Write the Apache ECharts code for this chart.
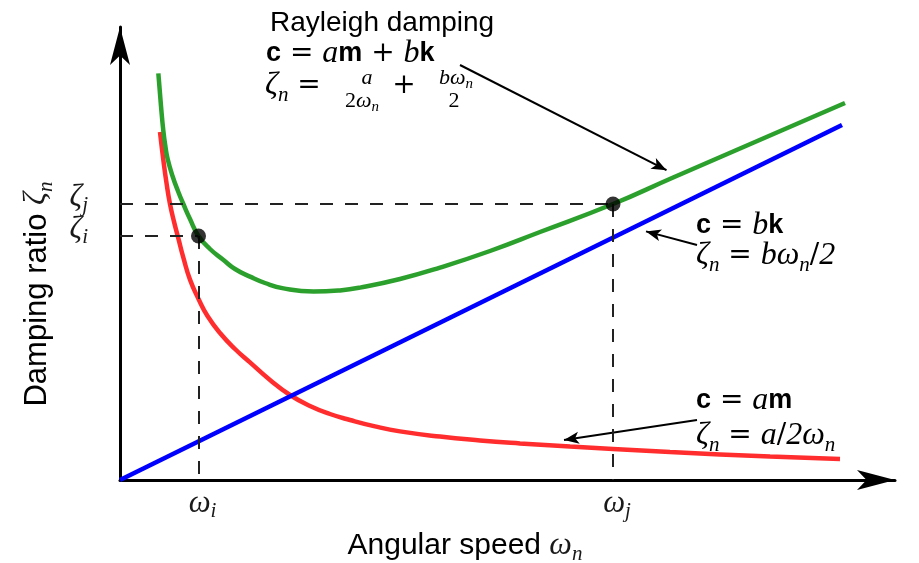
<!DOCTYPE html>
<html>
<head>
<meta charset="utf-8">
<script src="https://cdn.jsdelivr.net/npm/echarts@6/dist/echarts.min.js"></script>
<style>
html,body{margin:0;padding:0;background:#fff;}
#chart{width:919px;height:563px;}
</style>
</head>
<body>
<div id="chart"></div>
<script>
// ---- data (x: angular speed, y: damping ratio, arbitrary units) ----
const massCurve = [[0.8,17.4],[0.867,16.0],[0.93,14.85],[1.0,13.8],[1.08,12.92],[1.167,12.08],[1.267,11.12],[1.4,10.02],[1.58,9.0],[1.75,8.2],[2.0,7.35],[2.3,6.55],[2.6,5.88],[3.0,5.0],[3.4,4.25],[3.8,3.7],[4.2,3.3],[4.6,3.0],[5.1,2.68],[5.6,2.43],[6.4,2.17],[7.2,1.98],[8.0,1.83],[9.0,1.67],[9.86,1.55],[11.0,1.4],[12.0,1.28],[13.0,1.17],[14.4,1.05]];
const rayleighCurve = [[0.767,20.33],[0.82,18.7],[0.867,17.45],[0.91,16.65],[0.953,16.05],[1.05,15.2],[1.167,14.4],[1.267,13.8],[1.4,13.05],[1.57,12.2],[1.8,11.55],[2.07,11.0],[2.3,10.55],[2.6,10.17],[2.9,9.85],[3.27,9.58],[3.87,9.42],[4.4,9.48],[4.8,9.62],[5.6,10.05],[6.4,10.62],[7.4,11.45],[8.4,12.4],[9.86,13.8],[11.04,15.1],[12.7,16.9],[14.5,18.85]];
const stiffnessCurve = [[0,0],[14.44,17.75]];
const matchPoints = [[1.57,12.2],[9.86,13.8]];
const xTickValues = [1.57, 9.86];
const xTickSubs = ['i','j'];
const yTickValues = [12.2, 13.8];
const yTickSubs = ['i','j'];
const xAxisName = 'Angular speed ';
const yAxisName = 'Damping ratio ';
// annotation arrows: [from, to] in data units
const arrowRayleigh = [[6.8,20.75],[10.93,15.49]];
const arrowStiff = [[11.54,11.75],[10.52,12.43]];
const arrowMass = [[11.54,3.0],[8.88,2.0]];

const MATH = '#1a1a1a';
const rich = {
  s: {fontFamily:'Liberation Sans', fontSize:28, color:'#000', lineHeight:36},
  b: {fontFamily:'Liberation Sans', fontWeight:'bold', fontSize:27, color:'#000', lineHeight:36},
  i: {fontFamily:'Liberation Serif', fontStyle:'italic', fontSize:32, color:MATH, lineHeight:36},
  r: {fontFamily:'DejaVu Serif', fontSize:28, color:'#333', lineHeight:36},
  u: {fontFamily:'Liberation Serif', fontStyle:'italic', fontSize:21, color:MATH, lineHeight:36, padding:[18,0,0,0]},
  fi: {fontFamily:'Liberation Serif', fontStyle:'italic', fontSize:22, color:MATH, lineHeight:24},
  fr: {fontFamily:'Liberation Serif', fontSize:22, color:MATH, lineHeight:24},
  fu: {fontFamily:'Liberation Serif', fontStyle:'italic', fontSize:15, color:MATH, lineHeight:24, padding:[12,0,0,0]},
  ti: {fontFamily:'Liberation Serif', fontStyle:'italic', fontSize:31, color:MATH, lineHeight:24},
  tu: {fontFamily:'Liberation Serif', fontStyle:'italic', fontSize:21, color:MATH, lineHeight:24, padding:[14,0,0,0]},
  yi: {fontFamily:'Liberation Serif', fontStyle:'italic', fontSize:31, color:MATH, lineHeight:4},
  yu: {fontFamily:'Liberation Serif', fontStyle:'italic', fontSize:21, color:MATH, lineHeight:4, padding:[14,0,0,0]}
};

function nearestIdx(arr, v){ let k=0; for(let j=1;j<arr.length;j++){ if(Math.abs(arr[j]-v)<Math.abs(arr[k]-v)) k=j; } return k; }
function zetaLabel(v){ return '{yi|ζ}{yu|' + yTickSubs[nearestIdx(yTickValues,v)] + '}'; }

const chart = echarts.init(document.getElementById('chart'), null, {renderer:'canvas'});

function txt(x, y, text, align){
  return {type:'text', x:x, y:y, z:100, style:{text:text, rich:rich, align:align||'left', verticalAlign:'middle'}};
}

const yMax = 22.65;
const option = {
  animation:false,
  backgroundColor:'#fff',
  grid:{left:120, right:24, top:27, bottom:83, containLabel:false, outerBoundsMode:'none'},
  xAxis:{
    type:'value', min:0, max:15.5,
    axisLine:{show:true, onZero:false, lineStyle:{color:'#000', width:3}, symbol:['none','arrow'], symbolSize:[15,38]},
    axisTick:{show:false},
    splitLine:{show:false},
    axisLabel:{customValues:xTickValues, margin:12, rich:rich, hideOverlap:false, showMinLabel:true, showMaxLabel:true,
      padding:[0,0,0,8],
      formatter:function(v){ return '{ti|ω}{tu|' + xTickSubs[nearestIdx(xTickValues,v)] + '}'; }},
    name: xAxisName + '{i|ω}{u|n}', nameLocation:'middle', nameGap:45,
    nameTextStyle:{fontFamily:'Liberation Sans', fontSize:30, color:'#000', rich:rich, padding:[0,85,0,0]}
  },
  yAxis:[{
    type:'value', min:0, max:yMax, position:'left',
    axisLine:{show:true, onZero:false, lineStyle:{color:'#000', width:3}, symbol:['none','arrow'], symbolSize:[15,38]},
    axisTick:{show:false},
    splitLine:{show:false},
    axisLabel:{customValues:[yTickValues[0]], margin:32, rich:rich, padding:[0,0,12,0], formatter:zetaLabel},
    name: yAxisName + '{i|ζ}{u|n}', nameLocation:'middle', nameGap:65, nameRotate:90,
    nameTextStyle:{fontFamily:'Liberation Sans', fontSize:31, color:'#000', rich:rich, padding:[0,81,0,0]}
  },{
    type:'value', min:0, max:yMax, position:'left', offset:0,
    axisLine:{show:false}, axisTick:{show:false}, splitLine:{show:false},
    axisLabel:{customValues:[yTickValues[1]], margin:32, rich:rich, padding:[0,0,12,0], formatter:zetaLabel}
  }],
  series:[
    {type:'line', name:'am', data:massCurve, smooth:true, showSymbol:false, clip:false,
     lineStyle:{color:'#ff2d2d', width:4.5}, z:3},
    {type:'line', name:'am+bk', data:rayleighCurve, smooth:true, showSymbol:false, clip:false,
     lineStyle:{color:'#2ca02c', width:4.5}, z:3,
     markLine:{silent:true, symbol:['none','arrow'], symbolSize:[9,15], label:{show:false},
       lineStyle:{color:'#000', width:2, type:'solid'},
       data:[
         [{coord:arrowRayleigh[0]},{coord:arrowRayleigh[1]}],
         [{coord:arrowStiff[0]},{coord:arrowStiff[1]}],
         [{coord:arrowMass[0]},{coord:arrowMass[1]}]
       ]}},
    {type:'line', name:'bk', data:stiffnessCurve, showSymbol:false, clip:false,
     lineStyle:{color:'#0000ff', width:4.5}, z:4},
    {type:'scatter', data:matchPoints, symbolSize:15, itemStyle:{color:'#000'}, z:6,
     markLine:{silent:true, symbol:['none','none'], label:{show:false},
       lineStyle:{color:'#222', width:2, type:[13,12]},
       data:[
         [{coord:[0,yTickValues[1]]},{coord:[xTickValues[1],yTickValues[1]]}],
         [{coord:[xTickValues[1],yTickValues[1]]},{coord:[xTickValues[1],0]}],
         [{coord:[0,yTickValues[0]]},{coord:[xTickValues[0],yTickValues[0]]}],
         [{coord:[xTickValues[0],yTickValues[0]]},{coord:[xTickValues[0],0]}]
       ]}}
  ],
  graphic:[
    txt(270, 23, '{s|Rayleigh damping}'),
    txt(266, 54, '{b|c}{r| = }{i|a}{b|m}{r| + }{i|b}{b|k}'),
    txt(265, 86, '{i|ζ}{u|n}{r| = }'),
    txt(367, 78, '{fi|a}', 'center'),
    txt(362, 101, '{fr|2}{fi|ω}{fu|n}', 'center'),
    txt(404, 86, '{r|+}', 'center'),
    txt(456, 78, '{fi|bω}{fu|n}', 'center'),
    txt(454, 101, '{fr|2}', 'center'),
    txt(696, 226, '{b|c}{r| = }{i|b}{b|k}'),
    txt(696, 256, '{i|ζ}{u|n}{r| = }{i|bω}{u|n}{r|/}{i|2}'),
    txt(696, 401, '{b|c}{r| = }{i|a}{b|m}'),
    txt(696, 436, '{i|ζ}{u|n}{r| = }{i|a}{r|/}{i|2ω}{u|n}')
  ]
};
chart.setOption(option);
</script>
</body>
</html>
